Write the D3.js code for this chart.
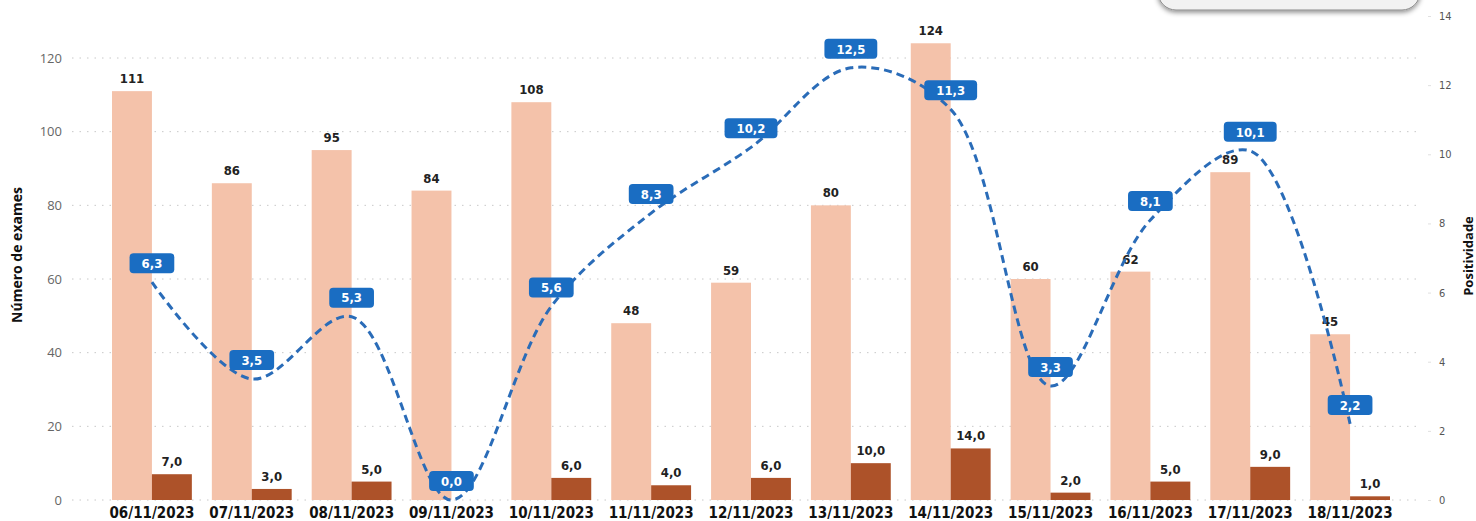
<!DOCTYPE html>
<html>
<head>
<meta charset="utf-8">
<script src="https://cdn.jsdelivr.net/npm/d3@7"></script>
<style>
  body { margin: 0; background: #fff; }
  svg { display: block; }
</style>
</head>
<body>
<div id="vis"></div>
<script>
(function() {
    var width = 1476,
        height = 521;

    var dates = ["06/11/2023", "07/11/2023", "08/11/2023", "09/11/2023", "10/11/2023", "11/11/2023",
        "12/11/2023", "13/11/2023", "14/11/2023", "15/11/2023", "16/11/2023", "17/11/2023", "18/11/2023"];
    var exames = [111, 86, 95, 84, 108, 48, 59, 80, 124, 60, 62, 89, 45];
    var positivos = [7, 3, 5, 0, 6, 4, 6, 10, 14, 2, 5, 9, 1];
    var positividade = [6.3, 3.5, 5.3, 0.0, 5.6, 8.3, 10.2, 12.5, 11.3, 3.3, 8.1, 10.1, 2.2];
    var leftTicks = [0, 20, 40, 60, 80, 100, 120];
    var rightTicks = [0, 2, 4, 6, 8, 10, 12, 14];

    var colors = {
        light: "#f4c2aa",
        dark: "#ad5229",
        blue: "#1a6dc2",
        line: "#2a6cb8",
        grid: "#c8c8c8",
        text: "#222222"
    };

    var condensed = "'DejaVu Sans Condensed', 'DejaVu Sans', sans-serif";
    var fmt = function(v) { return v.toFixed(1).replace(".", ","); };

    var svg = d3.select("#vis")
        .append("svg")
        .attr("width", width)
        .attr("height", height);

    var data = dates.map(function(d, i) {
        return { date: d, exames: exames[i], positivos: positivos[i], pos: positividade[i] };
    });

    var x = d3.scaleBand().domain(dates).range([102, 1400]);
    var xSub = d3.scaleBand().domain(["exames", "positivos"]).range([10, x.bandwidth() - 10]);
    var yLeft = d3.scaleLinear().domain([0, 120]).range([500, 58]);
    var yRight = d3.scaleLinear().domain([0, 14]).range([500, 16]);

    // shadowed box in the corner
    var defs = svg.append("defs");
    var filter = defs.append("filter").attr("id", "shadow")
        .attr("x", "-10%").attr("y", "-50%").attr("width", "120%").attr("height", "200%");
    filter.append("feDropShadow").attr("dx", 0).attr("dy", 2).attr("stdDeviation", 2.5)
        .attr("flood-color", "#000").attr("flood-opacity", 0.45);

    svg.append("rect")
        .attr("x", 1158).attr("y", -40)
        .attr("width", 262).attr("height", 50)
        .attr("rx", 18)
        .attr("fill", "#f2f2f2")
        .attr("stroke", "#8a8a8a")
        .attr("stroke-width", 1)
        .attr("filter", "url(#shadow)");

    // gridlines
    svg.append("g").selectAll("line")
        .data(leftTicks)
        .enter().append("line")
        .attr("x1", 72).attr("x2", 1420)
        .attr("y1", function(d) { return yLeft(d); })
        .attr("y2", function(d) { return yLeft(d); })
        .attr("stroke", colors.grid)
        .attr("stroke-width", 1)
        .attr("stroke-dasharray", "1.5,6");

    // left axis
    var leftAxis = svg.append("g")
        .attr("transform", "translate(62,0)")
        .call(d3.axisLeft(yLeft).tickValues(leftTicks).tickSize(0).tickPadding(0));
    leftAxis.select(".domain").remove();
    leftAxis.selectAll("text")
        .attr("fill", "#666")
        .style("font-family", "'Open Sans', sans-serif")
        .style("font-size", "13px");

    // right axis
    var rightAxis = svg.append("g")
        .attr("transform", "translate(1428,0)")
        .call(d3.axisRight(yRight).tickValues(rightTicks).tickSize(3).tickPadding(8));
    rightAxis.select(".domain").remove();
    rightAxis.selectAll("line").attr("stroke", "#e0e0e0");
    rightAxis.selectAll("text")
        .attr("fill", "#555")
        .style("font-family", condensed)
        .style("font-size", "11px");

    // axis titles
    svg.append("text")
        .attr("transform", "translate(22,255) rotate(-90)")
        .attr("text-anchor", "middle")
        .attr("fill", "#111")
        .style("font-family", "'Open Sans', sans-serif")
        .style("font-weight", "bold")
        .style("font-size", "14px")
        .text("Número de exames");

    svg.append("text")
        .attr("transform", "translate(1473,256) rotate(-90)")
        .attr("text-anchor", "middle")
        .attr("fill", "#111")
        .style("font-family", "'Open Sans', sans-serif")
        .style("font-weight", "bold")
        .style("font-size", "13px")
        .text("Positividade");

    // bars
    var groups = svg.append("g").selectAll(".grp")
        .data(data)
        .enter().append("g")
        .attr("class", "grp")
        .attr("transform", function(d) { return "translate(" + x(d.date) + ",0)"; });

    groups.append("rect")
        .attr("x", xSub("exames"))
        .attr("width", xSub.bandwidth())
        .attr("y", function(d) { return yLeft(d.exames); })
        .attr("height", function(d) { return yLeft(0) - yLeft(d.exames); })
        .attr("fill", colors.light);

    groups.append("rect")
        .attr("x", xSub("positivos"))
        .attr("width", xSub.bandwidth())
        .attr("y", function(d) { return yLeft(d.positivos); })
        .attr("height", function(d) { return yLeft(0) - yLeft(d.positivos); })
        .attr("fill", colors.dark);

    groups.append("text")
        .attr("x", xSub("exames") + xSub.bandwidth() / 2)
        .attr("y", function(d) { return yLeft(d.exames) - 8; })
        .attr("text-anchor", "middle")
        .attr("fill", colors.text)
        .style("font-family", condensed)
        .style("font-weight", "bold")
        .style("font-size", "13px")
        .text(function(d) { return d.exames; });

    // the zero label sits behind the blue 0,0 box in the original
    groups.filter(function(d) { return d.positivos > 0; })
        .append("text")
        .attr("x", xSub("positivos") + xSub.bandwidth() / 2)
        .attr("y", function(d) { return yLeft(d.positivos) - 8; })
        .attr("text-anchor", "middle")
        .attr("fill", colors.text)
        .style("font-family", condensed)
        .style("font-weight", "bold")
        .style("font-size", "13px")
        .text(function(d) { return fmt(d.positivos); });

    // x axis labels
    var xAxis = svg.append("g")
        .attr("transform", "translate(0,504)")
        .call(d3.axisBottom(x).tickSize(0).tickPadding(0));
    xAxis.select(".domain").remove();
    xAxis.selectAll("text")
        .attr("dy", "0.95em")
        .attr("fill", "#111")
        .style("font-family", condensed)
        .style("font-weight", "bold")
        .style("font-size", "15px");

    // positividade line
    var cx = function(d) { return x(d.date) + x.bandwidth() / 2; };
    var line = d3.line()
        .x(cx)
        .y(function(d) { return yRight(d.pos); })
        .curve(d3.curveCatmullRom.alpha(0.5));

    svg.append("path")
        .datum(data)
        .attr("d", line)
        .attr("fill", "none")
        .attr("stroke", colors.line)
        .attr("stroke-width", 3)
        .attr("stroke-dasharray", "8,5");

    // blue labels
    var labels = svg.append("g").selectAll(".lbl")
        .data(data)
        .enter().append("g")
        .attr("class", "lbl")
        .attr("transform", function(d) { return "translate(" + cx(d) + "," + (yRight(d.pos) - 19) + ")"; });

    labels.append("text")
        .attr("text-anchor", "middle")
        .attr("dy", "0.36em")
        .attr("fill", "#fff")
        .style("font-family", condensed)
        .style("font-weight", "bold")
        .style("font-size", "13px")
        .text(function(d) { return fmt(d.pos); })
        .each(function() {
            var w = this.getComputedTextLength() + 24;
            d3.select(this.parentNode).insert("rect", "text")
                .attr("x", -w / 2).attr("y", -10)
                .attr("width", w).attr("height", 20)
                .attr("rx", 4)
                .attr("fill", colors.blue);
        });
})();
</script>
</body>
</html>
